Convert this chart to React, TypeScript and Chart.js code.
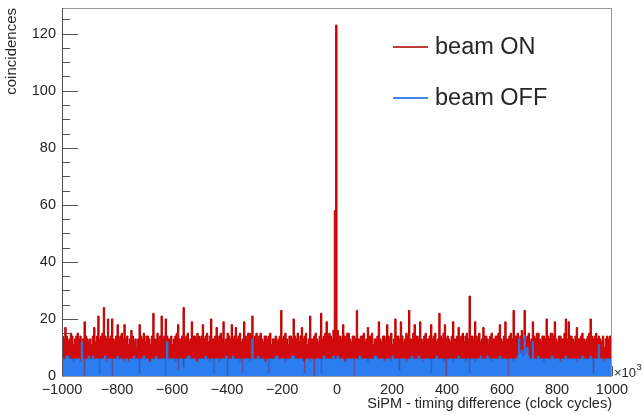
import React, { useEffect, useRef } from 'react';
import { Chart, registerables } from 'chart.js';

Chart.register(...registerables);

// Histogram binning (x in units of 10^3 clock cycles)
const BIN_START = -1000;
const BIN_WIDTH = 5;

// beam ON counts per bin (400 bins, -1000 .. 1000)
const BEAM_ON = [
  14, 13, 17, 14, 12, 13, 15, 14, 11, 13, 14, 15, 13, 14, 12, 13, 19, 14, 13, 12,
  13, 11, 14, 17, 12, 14, 21, 13, 14, 15, 24, 14, 13, 20, 13, 14, 20, 13, 12, 14,
  18, 13, 14, 15, 13, 18, 13, 14, 11, 13, 16, 14, 12, 13, 10, 13, 18, 14, 13, 15,
  12, 14, 14, 13, 11, 14, 22, 13, 13, 15, 12, 14, 21, 13, 14, 20, 14, 13, 13, 14,
  11, 13, 14, 15, 18, 13, 13, 14, 24, 13, 14, 15, 12, 13, 19, 14, 14, 13, 15, 14,
  13, 14, 18, 13, 14, 15, 12, 14, 20, 13, 13, 14, 17, 13, 14, 15, 13, 19, 12, 13,
  15, 14, 13, 18, 13, 14, 17, 13, 14, 15, 12, 13, 19, 14, 13, 15, 15, 14, 21, 13,
  14, 15, 13, 14, 15, 13, 12, 14, 14, 13, 14, 15, 11, 13, 13, 14, 12, 13, 14, 23,
  13, 14, 15, 13, 11, 14, 14, 13, 20, 14, 13, 15, 12, 14, 17, 13, 14, 15, 11, 13,
  21, 13, 13, 14, 15, 13, 12, 14, 22, 13, 14, 15, 19, 14, 15, 14, 13, 16, 58, 123,
  16, 14, 14, 13, 18, 14, 13, 15, 15, 13, 12, 14, 14, 13, 23, 13, 13, 14, 14, 15,
  12, 13, 17, 14, 14, 15, 11, 13, 13, 14, 19, 13, 12, 14, 14, 13, 18, 14, 13, 15,
  11, 13, 20, 14, 14, 13, 19, 14, 12, 13, 15, 14, 23, 13, 13, 15, 18, 14, 14, 13,
  19, 13, 12, 14, 15, 13, 13, 14, 18, 13, 14, 15, 12, 13, 22, 14, 13, 15, 18, 13,
  14, 13, 12, 14, 19, 13, 13, 14, 17, 13, 14, 15, 12, 14, 15, 13, 28, 14, 14, 13,
  19, 14, 13, 15, 12, 13, 17, 14, 14, 13, 11, 14, 15, 13, 13, 14, 14, 15, 18, 13,
  12, 14, 19, 13, 13, 14, 15, 13, 23, 14, 14, 15, 13, 14, 16, 13, 23, 13, 14, 15,
  12, 13, 19, 14, 13, 15, 15, 13, 12, 14, 14, 13, 20, 14, 13, 15, 15, 14, 19, 13,
  12, 14, 14, 13, 13, 15, 20, 13, 19, 14, 14, 13, 12, 14, 17, 13, 13, 14, 15, 13,
  12, 13, 14, 15, 20, 14, 13, 14, 15, 13, 14, 13, 12, 14, 10, 13, 14, 13, 14, 14,
];

// beam OFF counts per bin
const BEAM_OFF = [
  6, 6, 6, 7, 7, 6, 6, 6, 5, 6, 6, 6, 6, 5, 12, 6, 0, 6, 6, 7,
  6, 6, 7, 6, 6, 6, 6, 1, 6, 6, 6, 7, 5, 6, 6, 6, 0, 6, 6, 6,
  7, 6, 6, 6, 6, 5, 6, 6, 5, 6, 6, 6, 7, 6, 6, 6, 1, 6, 6, 7,
  6, 6, 6, 5, 5, 6, 6, 6, 7, 6, 6, 6, 6, 6, 6, 0, 12, 6, 6, 6,
  6, 6, 5, 6, 2, 6, 6, 6, 3, 6, 6, 7, 7, 6, 6, 6, 6, 5, 5, 6,
  6, 6, 6, 6, 7, 6, 6, 5, 6, 6, 1, 6, 6, 6, 5, 6, 6, 6, 6, 7,
  0, 6, 6, 6, 7, 6, 6, 6, 6, 5, 6, 1, 6, 6, 6, 6, 5, 6, 13, 6,
  6, 6, 7, 6, 6, 6, 6, 5, 5, 6, 1, 6, 6, 6, 6, 7, 7, 6, 6, 6,
  6, 6, 5, 6, 6, 6, 6, 7, 7, 6, 6, 6, 6, 6, 6, 5, 1, 6, 6, 6,
  5, 6, 6, 0, 6, 6, 6, 6, 1, 6, 7, 6, 6, 6, 6, 6, 6, 7, 6, 6,
  7, 6, 6, 6, 6, 5, 5, 6, 6, 6, 6, 6, 0, 6, 6, 6, 7, 6, 6, 6,
  6, 6, 5, 6, 6, 6, 6, 7, 7, 6, 6, 6, 6, 6, 5, 6, 6, 6, 6, 5,
  7, 6, 6, 6, 6, 2, 6, 6, 6, 6, 5, 6, 6, 6, 7, 6, 6, 6, 6, 7,
  6, 6, 5, 6, 6, 6, 6, 6, 1, 6, 6, 6, 7, 6, 6, 6, 6, 5, 6, 0,
  6, 6, 6, 6, 5, 6, 6, 6, 7, 6, 6, 6, 6, 5, 6, 6, 1, 6, 6, 6,
  5, 6, 6, 6, 7, 6, 6, 6, 6, 7, 6, 6, 5, 6, 6, 6, 6, 6, 7, 6,
  6, 6, 6, 6, 0, 6, 6, 6, 5, 6, 6, 7, 13, 8, 9, 7, 14, 8, 10, 7,
  6, 6, 12, 6, 6, 6, 7, 6, 6, 6, 5, 6, 6, 6, 6, 6, 7, 6, 6, 6,
  6, 6, 5, 6, 6, 6, 7, 6, 6, 6, 6, 6, 6, 6, 5, 6, 6, 6, 7, 6,
  6, 6, 6, 6, 7, 6, 1, 6, 6, 6, 11, 6, 6, 6, 5, 6, 6, 6, 6, 6,
];

const X_TICKS = [-1000, -800, -600, -400, -200, 0, 200, 400, 600, 800, 1000];
const X_TICK_LABELS = ['\u22121000', '\u2212800', '\u2212600', '\u2212400', '\u2212200', '0', '200', '400', '600', '800', '1000'];
const Y_TICKS = [0, 20, 40, 60, 80, 100, 120];
const X_MIN = -1000;
const X_MAX = 1000;
const Y_MAX = 129;

const SERIES_NAMES = ['beam ON', 'beam OFF'];
const X_TITLE = 'SiPM - timing difference (clock cycles)';
const Y_TITLE = 'coincidences';

const FONT = '"Liberation Sans", Arial, Helvetica, sans-serif';
const TEXT_COLOR = '#262626';
const RED_FILL = '#d10b0b';
const RED_LINE = '#bf0000';
const BLUE_FILL = '#2c7df0';
const BLUE_LINE = '#2a72e0';

function toSteps(values: number[]) {
  const pts = values.map((v, i) => ({ x: BIN_START + i * BIN_WIDTH, y: v }));
  pts.push({ x: BIN_START + values.length * BIN_WIDTH, y: values[values.length - 1] });
  return pts;
}

const rootStyle = {
  id: 'rootStyle',
  beforeDatasetsDraw(chart: any) {
    const { ctx, chartArea: a, scales } = chart;
    const ys = scales.y;
    const xs = scales.x;
    ctx.save();
    ctx.strokeStyle = '#555';
    ctx.lineWidth = 1;
    ctx.beginPath();
    for (let v = 0; v <= Y_MAX; v += 5) {
      const y = Math.round(ys.getPixelForValue(v)) + 0.5;
      const len = Y_TICKS.includes(v) ? 16 : 8;
      ctx.moveTo(a.left, y);
      ctx.lineTo(a.left + len, y);
    }
    for (let v = X_MIN; v <= X_MAX; v += 50) {
      const x = Math.round(xs.getPixelForValue(v)) + 0.5;
      const len = X_TICKS.includes(v) ? 10 : 5;
      ctx.moveTo(x, a.bottom);
      ctx.lineTo(x, a.bottom - len);
    }
    ctx.stroke();
    ctx.restore();
  },
  afterDatasetsDraw(chart: any) {
    const { ctx, chartArea: a } = chart;
    ctx.save();
    ctx.lineWidth = 1;
    ctx.strokeStyle = '#9a9a9a';
    ctx.strokeRect(a.left + 0.5, a.top + 0.5, a.right - a.left - 1, a.bottom - a.top);
    ctx.strokeStyle = '#555';
    ctx.beginPath();
    ctx.moveTo(a.left + 0.5, a.top);
    ctx.lineTo(a.left + 0.5, a.bottom);
    ctx.stroke();
    ctx.restore();
  },
  afterDraw(chart: any) {
    const { ctx, chartArea: a } = chart;
    ctx.save();
    // legend
    const entries = [
      { label: SERIES_NAMES[0], color: '#c23b3b', y: 47 },
      { label: SERIES_NAMES[1], color: '#3f88e6', y: 98 },
    ];
    ctx.font = `23.5px ${FONT}`;
    ctx.textBaseline = 'middle';
    ctx.textAlign = 'left';
    for (const e of entries) {
      ctx.strokeStyle = e.color;
      ctx.lineWidth = 2;
      ctx.beginPath();
      ctx.moveTo(393, e.y);
      ctx.lineTo(428, e.y);
      ctx.stroke();
      ctx.fillStyle = TEXT_COLOR;
      ctx.fillText(e.label, 435, e.y + 1);
    }
    // x10^3 exponent
    ctx.textBaseline = 'alphabetic';
    ctx.font = `13px ${FONT}`;
    ctx.fillStyle = TEXT_COLOR;
    const base = '\u00d710';
    ctx.fillText(base, a.right + 2, a.bottom + 1);
    const w = ctx.measureText(base).width;
    ctx.font = `9.5px ${FONT}`;
    ctx.fillText('3', a.right + 2 + w + 0.5, a.bottom - 6);
    ctx.restore();
  },
};

export default function App() {
  const canvasRef = useRef<HTMLCanvasElement | null>(null);

  useEffect(() => {
    if (!canvasRef.current) return;
    const chart = new Chart(canvasRef.current, {
      type: 'line',
      data: {
        datasets: [
          {
            label: SERIES_NAMES[0],
            data: toSteps(BEAM_ON),
            stepped: true,
            fill: 'origin',
            backgroundColor: RED_FILL,
            borderColor: RED_LINE,
            borderWidth: 1,
            pointRadius: 0,
            order: 1,
          },
          {
            label: SERIES_NAMES[1],
            data: toSteps(BEAM_OFF),
            stepped: true,
            fill: 'origin',
            backgroundColor: BLUE_FILL,
            borderColor: BLUE_LINE,
            borderWidth: 1,
            pointRadius: 0,
            order: 0,
          },
        ],
      },
      options: {
        animation: false,
        responsive: false,
        devicePixelRatio: 1,
        layout: { padding: { top: 8, right: 32, left: 0, bottom: 0 } },
        plugins: {
          legend: { display: false },
          tooltip: { enabled: false },
        },
        scales: {
          x: {
            type: 'linear',
            min: X_MIN,
            max: X_MAX,
            grid: { display: false, drawTicks: false },
            border: { display: false },
            afterBuildTicks: (s: any) => {
              s.ticks = X_TICKS.map((value) => ({ value }));
            },
            afterFit: (s: any) => {
              s.height = 39;
            },
            ticks: {
              autoSkip: false,
              maxRotation: 0,
              padding: 5,
              color: TEXT_COLOR,
              font: { family: FONT, size: 14.5 },
              callback: (v: any) => {
                const i = X_TICKS.indexOf(Number(v));
                return i >= 0 ? X_TICK_LABELS[i] : '';
              },
            },
            title: {
              display: true,
              text: X_TITLE,
              align: 'end',
              color: TEXT_COLOR,
              font: { family: FONT, size: 14.5 },
              padding: { top: 0, bottom: 2 },
            },
          },
          y: {
            type: 'linear',
            min: 0,
            max: Y_MAX,
            grid: { display: false, drawTicks: false },
            border: { display: false },
            afterBuildTicks: (s: any) => {
              s.ticks = Y_TICKS.map((value) => ({ value }));
            },
            afterFit: (s: any) => {
              s.width = 62;
              s.paddingTop = 0;
              s.paddingBottom = 0;
            },
            ticks: {
              padding: 6,
              color: TEXT_COLOR,
              font: { family: FONT, size: 14.5 },
            },
            title: {
              display: true,
              text: Y_TITLE,
              align: 'end',
              color: TEXT_COLOR,
              font: { family: FONT, size: 15 },
              padding: { top: 3, bottom: 0 },
            },
          },
        },
      },
      plugins: [rootStyle],
    } as any);
    return () => chart.destroy();
  }, []);

  return (
    <div style={{ position: 'absolute', left: 0, top: 0, width: 644, height: 415, background: '#fff' }}>
      <canvas ref={canvasRef} width={644} height={415} />
    </div>
  );
}
